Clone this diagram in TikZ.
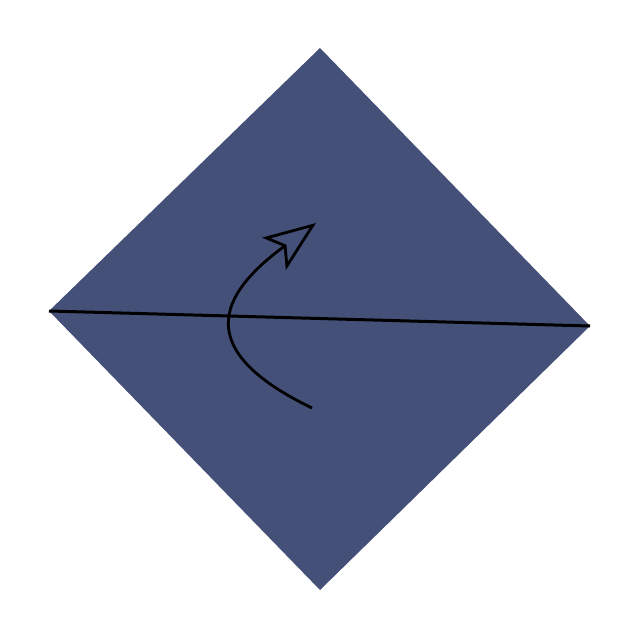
\documentclass[tikz,border=0pt]{standalone}
\usetikzlibrary{arrows.meta}
\definecolor{diamondfill}{RGB}{69,80,120}
\begin{document}
\begin{tikzpicture}[x=1pt,y=-1pt,
  shapefill/.style={fill=diamondfill,draw=none},
  divider/.style={draw=black,line width=3pt},
  turnarrow/.style={draw=black,line width=2.8pt,-{Stealth[open,length=52pt,width=40pt,inset=12pt]}}]
\useasboundingbox (0,0) rectangle (640,640);
\coordinate (T) at (320,48);
\coordinate (R) at (590,326);
\coordinate (B) at (320,590);
\coordinate (L) at (49,311);
\path[shapefill] (T) -- (R) -- (B) -- (L) -- cycle;
\draw[divider] (L) -- (R);
\coordinate (s) at (312,408);
\coordinate (e) at (316,223);
\draw[turnarrow] (s) .. controls (192,350) and (218,295) .. (e);
\end{tikzpicture}
\end{document}
